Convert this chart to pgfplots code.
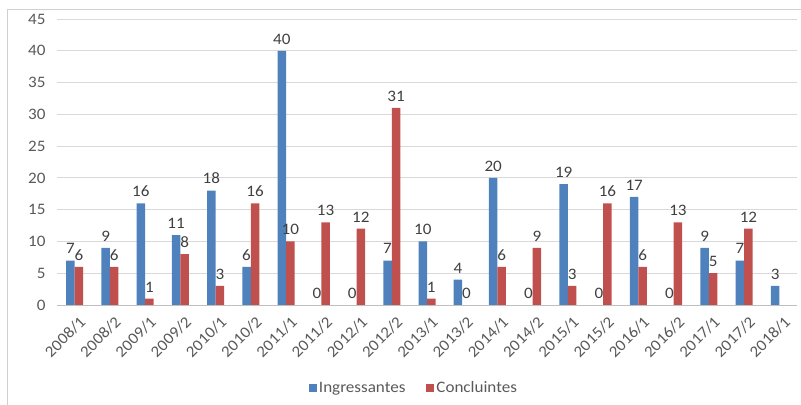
\documentclass[border=0pt]{standalone}
\usepackage{pgfplots}
\pgfplotsset{compat=1.18}
\usepackage{fontspec}
\setmainfont{Carlito}[FakeStretch=1.07]

\definecolor{ingblue}{HTML}{4F81BD}
\definecolor{conred}{HTML}{C0504D}
\definecolor{txtgray}{HTML}{595959}
\definecolor{lblgray}{HTML}{404040}
\definecolor{gridgray}{HTML}{D9D9D9}
\definecolor{axisgray}{HTML}{BFBFBF}
\definecolor{framegray}{HTML}{D0D0D0}

\begin{document}
\begin{tikzpicture}
\begin{axis}[
    at={(57bp,100bp)}, anchor=south west,
    scale only axis,
    width=740bp, height=286bp,
    ybar=0pt, bar width=8.5bp,
    xmin=-0.5, xmax=20.5,
    ymin=0, ymax=45,
    ytick={0,5,...,45},
    xtick={0,...,20},
    xticklabels={2008/1,2008/2,2009/1,2009/2,2010/1,2010/2,2011/1,2011/2,2012/1,2012/2,2013/1,2013/2,2014/1,2014/2,2015/1,2015/2,2016/1,2016/2,2017/1,2017/2,2018/1},
    /pgf/number format/assume math mode=true,
    tick label style={font=\fontsize{16}{19}\selectfont, color=txtgray},
    xticklabel style={xshift=4bp, yshift=-7bp, rotate=45, anchor=north east, inner sep=2bp},
    yticklabel style={xshift=-8bp},
    major tick length=0pt,
    separate axis lines,
    axis x line*=bottom,
    axis y line*=left,
    x axis line style={draw=axisgray, line width=1bp, -},
    y axis line style={draw=none},
    ymajorgrids=true,
    grid style={draw=gridgray, line width=1bp},
    nodes near coords,
    every node near coord/.append style={font=\fontsize{16}{19}\selectfont, color=lblgray, yshift=3bp},
    legend columns=2,
    legend style={at={(0.4824,-0.29)}, anchor=center, draw=none, fill=none,
        font=\fontsize{16}{19}\selectfont, text=txtgray,
        /tikz/every even column/.append style={column sep=19bp}},
    legend image code/.code={\fill[#1] (0bp,-4bp) rectangle (8bp,4bp);},
]
\addplot[fill=ingblue, draw=none] coordinates {
    (0,7) (1,9) (2,16) (3,11) (4,18) (5,6) (6,40) (7,0) (8,0) (9,7)
    (10,10) (11,4) (12,20) (13,0) (14,19) (15,0) (16,17) (17,0) (18,9) (19,7) (20,3)
};
\addlegendentry{Ingressantes}
\addplot[fill=conred, draw=none] coordinates {
    (0,6) (1,6) (2,1) (3,8) (4,3) (5,16) (6,10) (7,13) (8,12) (9,31)
    (10,1) (11,0) (12,6) (13,9) (14,3) (15,16) (16,6) (17,13) (18,5) (19,12)
};
\addlegendentry{Concluintes}
\end{axis}
\draw[framegray, line width=1bp] (7bp,0bp) -- (7bp,395bp) -- (801bp,395bp);
\pgfresetboundingbox
\path[use as bounding box] (0bp,0bp) rectangle (801bp,405bp);
\end{tikzpicture}
\end{document}
